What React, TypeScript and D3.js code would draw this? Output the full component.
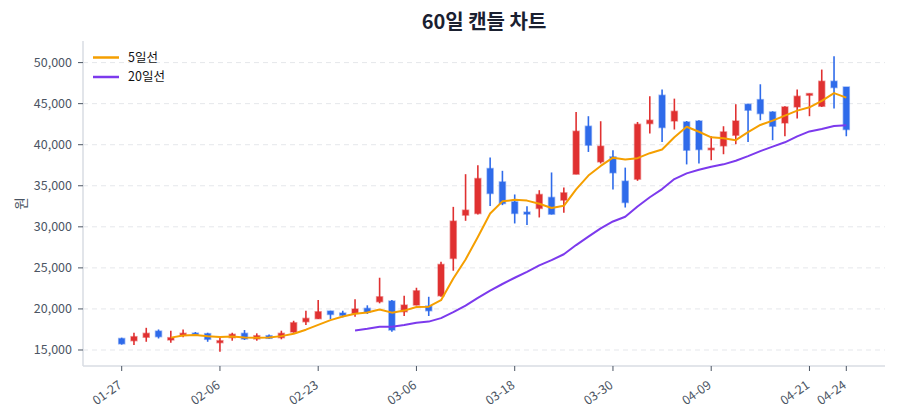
import React, { useEffect } from 'react';
import * as d3 from 'd3';

// trading days (MM-DD)
const dates = [
  '01-27', '01-28', '01-29', '01-30', '02-02', '02-03', '02-04', '02-05', '02-06', '02-09',
  '02-10', '02-11', '02-12', '02-13', '02-19', '02-20', '02-23', '02-24', '02-25', '02-26',
  '02-27', '03-03', '03-04', '03-05', '03-06', '03-09', '03-10', '03-11', '03-12', '03-13',
  '03-16', '03-17', '03-18', '03-19', '03-20', '03-23', '03-24', '03-25', '03-26', '03-27',
  '03-30', '03-31', '04-01', '04-02', '04-03', '04-06', '04-07', '04-08', '04-09', '04-10',
  '04-13', '04-14', '04-15', '04-16', '04-17', '04-20', '04-21', '04-22', '04-23', '04-24',
];

const opens = [
  16400, 16130, 16550, 17300, 16220, 16790, 17050, 16990, 15890, 16500,
  17030, 16340, 16740, 16500, 17190, 18440, 18810, 19740, 19500, 19460,
  20070, 20880, 20960, 19660, 20470, 20350, 21600, 26150, 31420, 31620,
  37100, 35470, 33040, 31790, 32240, 33580, 33250, 36410, 42250, 37910,
  38520, 35560, 35800, 42570, 46020, 42890, 42770, 42890, 39410, 39860,
  41150, 44930, 45490, 43990, 42650, 44600, 46020, 44680, 47730, 47030,
];

const highs = [
  16500, 17100, 17700, 17500, 17350, 17500, 17190, 17100, 16620, 17100,
  17430, 17030, 16900, 17350, 18560, 19780, 21080, 19780, 19780, 21170,
  20440, 23800, 21080, 21600, 22580, 21480, 25740, 32430, 36410, 37500,
  38430, 36820, 33940, 32520, 34460, 36620, 34790, 43990, 43470, 42860,
  39330, 37210, 42770, 45900, 46710, 45610, 42890, 42980, 41030, 42250,
  44930, 45000, 47360, 44070, 44680, 46710, 46230, 49150, 50770, 47030,
];

const lows = [
  15650, 15600, 16000, 16400, 15890, 16550, 16820, 16000, 14800, 16130,
  16215, 16130, 16340, 16300, 17100, 18040, 18770, 18770, 18975, 19050,
  19380, 20680, 17230, 19140, 20440, 19140, 21480, 24650, 30730, 31510,
  32550, 32640, 30410, 30210, 31140, 31500, 31700, 36410, 39120, 37710,
  34540, 32350, 35600, 41360, 40340, 41850, 37600, 37700, 38110, 38840,
  40060, 40340, 42980, 40550, 41030, 43180, 43470, 44600, 44400, 41030,
];

const closes = [
  15750, 16620, 17030, 16620, 16500, 17030, 16900, 16300, 16130, 16910,
  16340, 16740, 16420, 17030, 18320, 18850, 19660, 19330, 19220, 19990,
  19620, 21480, 17430, 20470, 22210, 19780, 25420, 30690, 32030, 35880,
  34060, 32840, 31630, 31550, 33940, 31540, 34140, 41640, 39940, 39820,
  36580, 32960, 42490, 42980, 42090, 44070, 39330, 39410, 39570, 41560,
  42890, 44200, 43790, 42250, 44600, 45900, 46230, 47730, 46960, 41850,
];

const tickDates = ['01-27', '02-06', '02-23', '03-06', '03-18', '03-30', '04-09', '04-21', '04-24'];
const yTicks = [15000, 20000, 25000, 30000, 35000, 40000, 45000, 50000];

const UP = '#e03131';
const DOWN = '#2f6bea';
const MA5_COLOR = '#f59f00';
const MA20_COLOR = '#7c3aed';
const FONT = '"Noto Sans CJK KR", "Noto Sans", sans-serif';

const W = 900;
const H = 420;
const margin = { top: 41, right: 15, bottom: 54, left: 83 };

// simple moving average over closes
const movingAvg = (n: number) =>
  closes.map((_, i) => (i < n - 1 ? null : d3.mean(closes.slice(i - n + 1, i + 1)) as number));

export default function App() {
  useEffect(() => {
    document.body.style.margin = '0';
  }, []);

  const x = d3.scalePoint<string>()
    .domain(dates)
    .range([margin.left, W - margin.right])
    .padding(3.15);

  const y = d3.scaleLinear()
    .domain([13050, 52630])
    .range([H - margin.bottom, margin.top]);

  const ma5 = movingAvg(5);
  const ma20 = movingAvg(20);

  const line = d3.line<number | null>()
    .defined((d) => d !== null)
    .x((_, i) => x(dates[i]) as number)
    .y((d) => y(d as number));

  const bodyW = 6;
  const plotBottom = H - margin.bottom;

  return (
    <svg width={W} height={H} style={{ display: 'block', fontFamily: FONT }}>
      <rect width={W} height={H} fill="#fff" />
      <text x={(margin.left + W - margin.right) / 2} y={29} textAnchor="middle"
        fontSize={20} fontWeight={700} fill="#1a2030">60일 캔들 차트</text>

      {/* grid */}
      {yTicks.map((t) => (
        <line key={'g' + t} x1={margin.left} x2={W - margin.right} y1={y(t)} y2={y(t)}
          stroke="#e5e7eb" strokeDasharray="5,4" />
      ))}

      {/* axes */}
      <line x1={margin.left} x2={margin.left} y1={margin.top} y2={plotBottom} stroke="#d9dce3" strokeWidth={1.5} />
      <line x1={margin.left} x2={W - margin.right} y1={plotBottom} y2={plotBottom} stroke="#d9dce3" strokeWidth={1.5} />
      {yTicks.map((t) => (
        <g key={'y' + t} transform={`translate(0,${y(t)})`}>
          <line x1={margin.left - 5} x2={margin.left} stroke="#4b5563" />
          <text x={margin.left - 11} dy="0.35em" textAnchor="end" fontSize={12.5} fill="#4b5563">
            {d3.format(',')(t)}
          </text>
        </g>
      ))}
      {tickDates.map((d) => (
        <g key={'x' + d} transform={`translate(${x(d)},${plotBottom})`}>
          <line y1={0} y2={5} stroke="#4b5563" />
          <text transform="translate(1,21) rotate(-35)" textAnchor="end"
            fontSize={12.5} fill="#4b5563">{d}</text>
        </g>
      ))}
      <text transform={`translate(21,${(margin.top + plotBottom) / 2}) rotate(-90)`} textAnchor="middle"
        dy="0.35em" fontSize={13.5} fill="#4b5563">원</text>

      {/* candles */}
      {dates.map((d, i) => {
        const up = closes[i] >= opens[i];
        const c = up ? UP : DOWN;
        const cx = x(d) as number;
        const top = y(Math.max(opens[i], closes[i]));
        const bot = y(Math.min(opens[i], closes[i]));
        return (
          <g key={'c' + d}>
            <line x1={cx} x2={cx} y1={y(highs[i])} y2={y(lows[i])} stroke={c} strokeWidth={1.6} />
            <rect x={cx - bodyW / 2} y={top} width={bodyW} height={Math.max(1.5, bot - top)}
              fill={c} stroke={c} strokeOpacity={0.45} strokeWidth={1.5} />
          </g>
        );
      })}

      {/* moving averages */}
      <path d={line(ma20) || ''} fill="none" stroke={MA20_COLOR} strokeWidth={2} strokeLinejoin="round" />
      <path d={line(ma5) || ''} fill="none" stroke={MA5_COLOR} strokeWidth={2} strokeLinejoin="round" />

      {/* legend */}
      <g fontSize={12.5} fill="#111">
        <line x1={93} x2={119} y1={57.5} y2={57.5} stroke={MA5_COLOR} strokeWidth={2.5} />
        <text x={128} y={57.5} dy="0.35em">5일선</text>
        <line x1={93} x2={119} y1={77} y2={77} stroke={MA20_COLOR} strokeWidth={2.5} />
        <text x={128} y={77} dy="0.35em">20일선</text>
      </g>
    </svg>
  );
}
